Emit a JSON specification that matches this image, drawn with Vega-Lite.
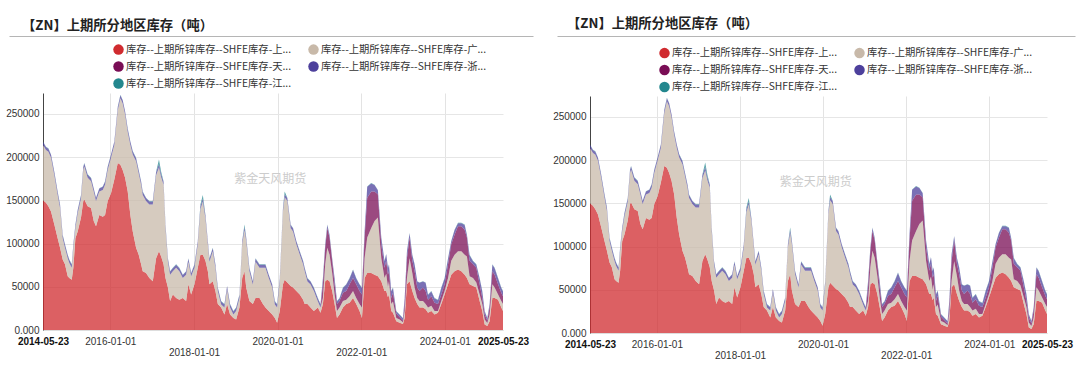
{
  "$schema": "https://vega.github.io/schema/vega-lite/v6.json",
  "background": "white",
  "padding": {"left": 5, "top": 16, "right": 0, "bottom": 0},
  "config": {
    "font": "Liberation Sans, Noto Sans CJK SC",
    "view": {"stroke": null},
    "axis": {"labelFontSize": 10, "labelColor": "#333333", "ticks": false, "title": null}
  },
  "resolve": {"scale": {"color": "independent"}, "legend": {"color": "independent"}},
  "datasets": {
    "names": [
      {"k": "sh", "name": "库存--上期所锌库存--SHFE库存-上海", "o": 1},
      {"k": "gd", "name": "库存--上期所锌库存--SHFE库存-广东", "o": 2},
      {"k": "tj", "name": "库存--上期所锌库存--SHFE库存-天津", "o": 3},
      {"k": "zj", "name": "库存--上期所锌库存--SHFE库存-浙江", "o": 4},
      {"k": "js", "name": "库存--上期所锌库存--SHFE库存-江苏", "o": 5}
    ],
    "inv": [
      {"d":"2014-05-23","sh":150000,"gd":64000,"tj":0,"zj":3500,"js":500},
      {"d":"2014-06-18","sh":147000,"gd":61000,"tj":0,"zj":3500,"js":500},
      {"d":"2014-07-09","sh":143000,"gd":63000,"tj":0,"zj":3500,"js":500},
      {"d":"2014-08-01","sh":137000,"gd":62000,"tj":0,"zj":3500,"js":500},
      {"d":"2014-08-30","sh":122000,"gd":57000,"tj":0,"zj":3500,"js":500},
      {"d":"2014-09-28","sh":106000,"gd":50000,"tj":0,"zj":3500,"js":500},
      {"d":"2014-10-19","sh":95000,"gd":46000,"tj":0,"zj":3500,"js":500},
      {"d":"2014-11-11","sh":81500,"gd":24500,"tj":0,"zj":3500,"js":500},
      {"d":"2014-12-01","sh":76000,"gd":19000,"tj":0,"zj":3500,"js":500},
      {"d":"2014-12-25","sh":62000,"gd":21000,"tj":0,"zj":3500,"js":500},
      {"d":"2015-01-08","sh":60000,"gd":17500,"tj":0,"zj":3500,"js":500},
      {"d":"2015-01-29","sh":58000,"gd":14000,"tj":0,"zj":3500,"js":500},
      {"d":"2015-02-12","sh":72000,"gd":23000,"tj":0,"zj":3500,"js":500},
      {"d":"2015-03-02","sh":106000,"gd":12000,"tj":0,"zj":3500,"js":500},
      {"d":"2015-03-22","sh":114000,"gd":21000,"tj":0,"zj":3500,"js":500},
      {"d":"2015-04-20","sh":130000,"gd":22000,"tj":0,"zj":3500,"js":500},
      {"d":"2015-05-10","sh":149000,"gd":36000,"tj":0,"zj":3500,"js":500},
      {"d":"2015-05-19","sh":151000,"gd":38000,"tj":0,"zj":3500,"js":500},
      {"d":"2015-06-17","sh":143000,"gd":33000,"tj":0,"zj":3500,"js":500},
      {"d":"2015-07-17","sh":141000,"gd":31000,"tj":0,"zj":3500,"js":500},
      {"d":"2015-08-09","sh":126000,"gd":34000,"tj":0,"zj":3500,"js":500},
      {"d":"2015-08-29","sh":120000,"gd":29000,"tj":0,"zj":3500,"js":500},
      {"d":"2015-09-27","sh":133000,"gd":27000,"tj":0,"zj":3500,"js":500},
      {"d":"2015-10-27","sh":131000,"gd":31000,"tj":0,"zj":3500,"js":500},
      {"d":"2015-11-16","sh":133000,"gd":35000,"tj":0,"zj":3500,"js":500},
      {"d":"2015-12-09","sh":149000,"gd":36000,"tj":0,"zj":3500,"js":500},
      {"d":"2016-01-07","sh":158000,"gd":41000,"tj":0,"zj":3500,"js":500},
      {"d":"2016-02-05","sh":174000,"gd":40000,"tj":0,"zj":3500,"js":500},
      {"d":"2016-03-06","sh":193000,"gd":61000,"tj":0,"zj":3500,"js":500},
      {"d":"2016-03-29","sh":191000,"gd":77000,"tj":0,"zj":3500,"js":500},
      {"d":"2016-04-18","sh":185000,"gd":77000,"tj":0,"zj":3500,"js":500},
      {"d":"2016-05-09","sh":176000,"gd":73000,"tj":0,"zj":3500,"js":500},
      {"d":"2016-06-01","sh":160000,"gd":69000,"tj":0,"zj":3500,"js":500},
      {"d":"2016-06-24","sh":133000,"gd":81000,"tj":0,"zj":3500,"js":500},
      {"d":"2016-07-15","sh":114000,"gd":89000,"tj":0,"zj":3500,"js":500},
      {"d":"2016-08-13","sh":95000,"gd":100000,"tj":0,"zj":3500,"js":500},
      {"d":"2016-09-05","sh":87000,"gd":94000,"tj":0,"zj":3500,"js":500},
      {"d":"2016-09-26","sh":76000,"gd":92000,"tj":0,"zj":3500,"js":500},
      {"d":"2016-10-10","sh":68000,"gd":88000,"tj":0,"zj":3500,"js":500},
      {"d":"2016-11-08","sh":66000,"gd":83000,"tj":0,"zj":3500,"js":500},
      {"d":"2016-12-07","sh":60000,"gd":85000,"tj":0,"zj":3500,"js":500},
      {"d":"2017-01-06","sh":56500,"gd":88500,"tj":0,"zj":3500,"js":500},
      {"d":"2017-02-04","sh":83000,"gd":96000,"tj":0,"zj":3500,"js":500},
      {"d":"2017-03-01","sh":91000,"gd":97000,"tj":0,"zj":4000,"js":5000},
      {"d":"2017-03-20","sh":85000,"gd":91500,"tj":0,"zj":3500,"js":3000},
      {"d":"2017-04-10","sh":76000,"gd":92000,"tj":0,"zj":3500,"js":500},
      {"d":"2017-04-27","sh":60000,"gd":58000,"tj":0,"zj":3500,"js":500},
      {"d":"2017-05-18","sh":49000,"gd":30000,"tj":0,"zj":3500,"js":500},
      {"d":"2017-06-06","sh":33500,"gd":30500,"tj":0,"zj":3500,"js":500},
      {"d":"2017-06-30","sh":41000,"gd":27000,"tj":0,"zj":3500,"js":500},
      {"d":"2017-07-29","sh":37000,"gd":35000,"tj":0,"zj":3500,"js":500},
      {"d":"2017-08-26","sh":35000,"gd":33000,"tj":0,"zj":3500,"js":500},
      {"d":"2017-09-25","sh":37000,"gd":23000,"tj":0,"zj":3500,"js":500},
      {"d":"2017-10-24","sh":33500,"gd":30500,"tj":0,"zj":3500,"js":500},
      {"d":"2017-11-13","sh":53000,"gd":26000,"tj":0,"zj":3500,"js":500},
      {"d":"2017-12-07","sh":41000,"gd":21000,"tj":0,"zj":3500,"js":500},
      {"d":"2018-01-05","sh":53000,"gd":19000,"tj":0,"zj":3500,"js":500},
      {"d":"2018-02-03","sh":72000,"gd":27000,"tj":0,"zj":3500,"js":500},
      {"d":"2018-02-26","sh":87000,"gd":52500,"tj":0,"zj":3500,"js":2000},
      {"d":"2018-03-19","sh":87000,"gd":61500,"tj":0,"zj":3500,"js":4000},
      {"d":"2018-04-11","sh":80000,"gd":49000,"tj":0,"zj":3500,"js":500},
      {"d":"2018-05-02","sh":68000,"gd":31000,"tj":0,"zj":3500,"js":500},
      {"d":"2018-05-16","sh":53000,"gd":26000,"tj":0,"zj":3500,"js":500},
      {"d":"2018-06-14","sh":56500,"gd":34500,"tj":0,"zj":3500,"js":500},
      {"d":"2018-07-07","sh":45000,"gd":27000,"tj":0,"zj":3500,"js":500},
      {"d":"2018-07-28","sh":30000,"gd":15000,"tj":0,"zj":3500,"js":500},
      {"d":"2018-08-26","sh":26000,"gd":3500,"tj":0,"zj":3500,"js":500},
      {"d":"2018-09-24","sh":18000,"gd":8000,"tj":0,"zj":3500,"js":500},
      {"d":"2018-10-17","sh":30000,"gd":17000,"tj":0,"zj":3500,"js":500},
      {"d":"2018-11-12","sh":18000,"gd":8000,"tj":0,"zj":3500,"js":500},
      {"d":"2018-12-11","sh":14000,"gd":4000,"tj":0,"zj":3500,"js":500},
      {"d":"2019-01-04","sh":12000,"gd":10000,"tj":0,"zj":3500,"js":500},
      {"d":"2019-02-02","sh":26000,"gd":11000,"tj":0,"zj":3500,"js":500},
      {"d":"2019-02-26","sh":60000,"gd":39000,"tj":0,"zj":3500,"js":500},
      {"d":"2019-03-18","sh":68000,"gd":47500,"tj":0,"zj":3500,"js":3000},
      {"d":"2019-04-02","sh":49000,"gd":54000,"tj":0,"zj":3500,"js":500},
      {"d":"2019-04-30","sh":33500,"gd":34500,"tj":0,"zj":3500,"js":500},
      {"d":"2019-05-30","sh":30000,"gd":22500,"tj":0,"zj":3500,"js":500},
      {"d":"2019-06-22","sh":37000,"gd":42000,"tj":0,"zj":3500,"js":500},
      {"d":"2019-07-27","sh":37000,"gd":35000,"tj":0,"zj":3500,"js":500},
      {"d":"2019-08-26","sh":30000,"gd":42000,"tj":0,"zj":3500,"js":500},
      {"d":"2019-09-17","sh":26000,"gd":46000,"tj":0,"zj":3500,"js":500},
      {"d":"2019-10-16","sh":22000,"gd":38000,"tj":0,"zj":3500,"js":500},
      {"d":"2019-11-15","sh":18000,"gd":31000,"tj":0,"zj":3500,"js":500},
      {"d":"2019-12-08","sh":14000,"gd":15500,"tj":0,"zj":3500,"js":500},
      {"d":"2019-12-28","sh":8500,"gd":17500,"tj":0,"zj":3500,"js":500},
      {"d":"2020-01-20","sh":22000,"gd":34000,"tj":0,"zj":3500,"js":500},
      {"d":"2020-02-17","sh":53000,"gd":84000,"tj":0,"zj":3500,"js":500},
      {"d":"2020-03-03","sh":58000,"gd":95500,"tj":0,"zj":3500,"js":3000},
      {"d":"2020-03-26","sh":55000,"gd":94000,"tj":0,"zj":3500,"js":500},
      {"d":"2020-04-24","sh":51000,"gd":67000,"tj":0,"zj":3500,"js":500},
      {"d":"2020-05-15","sh":49000,"gd":65000,"tj":0,"zj":3500,"js":500},
      {"d":"2020-06-13","sh":45000,"gd":54000,"tj":0,"zj":3500,"js":500},
      {"d":"2020-07-13","sh":41000,"gd":46000,"tj":0,"zj":3500,"js":500},
      {"d":"2020-08-11","sh":35000,"gd":41000,"tj":0,"zj":3500,"js":500},
      {"d":"2020-08-25","sh":30000,"gd":38000,"tj":0,"zj":3500,"js":500},
      {"d":"2020-09-18","sh":30000,"gd":26000,"tj":0,"zj":3500,"js":500},
      {"d":"2020-10-15","sh":26000,"gd":26500,"tj":0,"zj":3500,"js":500},
      {"d":"2020-11-13","sh":22000,"gd":23000,"tj":0,"zj":3500,"js":500},
      {"d":"2020-12-18","sh":26000,"gd":7000,"tj":0,"zj":3500,"js":500},
      {"d":"2021-01-10","sh":20000,"gd":6000,"tj":0,"zj":3500,"js":500},
      {"d":"2021-01-31","sh":30000,"gd":7000,"tj":16000,"zj":6000,"js":1000},
      {"d":"2021-02-20","sh":56500,"gd":19500,"tj":19000,"zj":3500,"js":500},
      {"d":"2021-03-10","sh":58000,"gd":37000,"tj":23000,"zj":3500,"js":500},
      {"d":"2021-03-30","sh":56500,"gd":30500,"tj":20000,"zj":2500,"js":500},
      {"d":"2021-04-22","sh":45000,"gd":21000,"tj":14000,"zj":2500,"js":500},
      {"d":"2021-05-13","sh":30000,"gd":11000,"tj":12000,"zj":6500,"js":500},
      {"d":"2021-06-03","sh":14000,"gd":8000,"tj":8000,"zj":3000,"js":500},
      {"d":"2021-06-25","sh":18000,"gd":8000,"tj":7500,"zj":3000,"js":500},
      {"d":"2021-07-25","sh":26000,"gd":7500,"tj":9500,"zj":5500,"js":500},
      {"d":"2021-08-23","sh":30000,"gd":5000,"tj":10000,"zj":7500,"js":500},
      {"d":"2021-09-21","sh":31500,"gd":7500,"tj":14000,"zj":6500,"js":500},
      {"d":"2021-10-21","sh":37000,"gd":8000,"tj":15000,"zj":9500,"js":500},
      {"d":"2021-11-18","sh":30000,"gd":7000,"tj":16000,"zj":6500,"js":500},
      {"d":"2021-12-17","sh":22000,"gd":8000,"tj":15000,"zj":7500,"js":500},
      {"d":"2022-01-07","sh":14000,"gd":12000,"tj":15000,"zj":7500,"js":500},
      {"d":"2022-01-30","sh":60000,"gd":23000,"tj":24000,"zj":6500,"js":500},
      {"d":"2022-02-22","sh":66000,"gd":41000,"tj":46000,"zj":12500,"js":500},
      {"d":"2022-03-29","sh":66000,"gd":52000,"tj":42000,"zj":9500,"js":500},
      {"d":"2022-04-27","sh":64000,"gd":62000,"tj":34000,"zj":7500,"js":500},
      {"d":"2022-05-26","sh":62000,"gd":68000,"tj":27000,"zj":4500,"js":500},
      {"d":"2022-06-25","sh":56500,"gd":26500,"tj":16000,"zj":7500,"js":500},
      {"d":"2022-07-23","sh":45000,"gd":15000,"tj":12000,"zj":7500,"js":500},
      {"d":"2022-08-07","sh":45000,"gd":20000,"tj":15000,"zj":7500,"js":500},
      {"d":"2022-08-22","sh":38000,"gd":12000,"tj":14000,"zj":7500,"js":500},
      {"d":"2022-08-31","sh":41000,"gd":15500,"tj":11500,"zj":7500,"js":500},
      {"d":"2022-09-20","sh":22000,"gd":8000,"tj":7000,"zj":7500,"js":500},
      {"d":"2022-10-05","sh":20000,"gd":13000,"tj":10000,"zj":5500,"js":500},
      {"d":"2022-11-03","sh":10000,"gd":4000,"tj":5000,"zj":2500,"js":500},
      {"d":"2022-12-02","sh":8500,"gd":3500,"tj":3000,"zj":2500,"js":500},
      {"d":"2022-12-31","sh":7000,"gd":2000,"tj":2000,"zj":2500,"js":500},
      {"d":"2023-01-15","sh":14000,"gd":8000,"tj":8000,"zj":6500,"js":500},
      {"d":"2023-02-04","sh":53000,"gd":7000,"tj":23000,"zj":7500,"js":500},
      {"d":"2023-02-27","sh":56500,"gd":26500,"tj":24000,"zj":4500,"js":500},
      {"d":"2023-03-23","sh":45000,"gd":21000,"tj":14000,"zj":6500,"js":500},
      {"d":"2023-04-12","sh":37000,"gd":12000,"tj":19000,"zj":7500,"js":500},
      {"d":"2023-05-05","sh":30000,"gd":7000,"tj":12000,"zj":7000,"js":500},
      {"d":"2023-05-25","sh":26000,"gd":7500,"tj":11500,"zj":9500,"js":500},
      {"d":"2023-06-24","sh":26000,"gd":7500,"tj":15500,"zj":7000,"js":500},
      {"d":"2023-07-17","sh":24000,"gd":6000,"tj":15000,"zj":9500,"js":500},
      {"d":"2023-08-07","sh":20000,"gd":6000,"tj":9000,"zj":5500,"js":500},
      {"d":"2023-09-05","sh":22000,"gd":6000,"tj":11000,"zj":5500,"js":500},
      {"d":"2023-10-03","sh":18000,"gd":4000,"tj":9500,"zj":5000,"js":500},
      {"d":"2023-11-02","sh":20000,"gd":2000,"tj":8000,"zj":4500,"js":500},
      {"d":"2023-12-01","sh":30000,"gd":3500,"tj":7500,"zj":7500,"js":500},
      {"d":"2023-12-30","sh":41000,"gd":4000,"tj":8000,"zj":6500,"js":500},
      {"d":"2024-01-29","sh":53000,"gd":7000,"tj":16000,"zj":6500,"js":500},
      {"d":"2024-02-26","sh":64000,"gd":16000,"tj":19000,"zj":3500,"js":500},
      {"d":"2024-03-26","sh":68000,"gd":19000,"tj":23000,"zj":5500,"js":500},
      {"d":"2024-04-25","sh":70000,"gd":21000,"tj":29000,"zj":3500,"js":500},
      {"d":"2024-05-24","sh":68000,"gd":23000,"tj":29000,"zj":3500,"js":500},
      {"d":"2024-06-22","sh":64000,"gd":23000,"tj":29000,"zj":5500,"js":500},
      {"d":"2024-07-12","sh":60000,"gd":25000,"tj":22000,"zj":2500,"js":500},
      {"d":"2024-08-04","sh":53000,"gd":9000,"tj":18000,"zj":6500,"js":500},
      {"d":"2024-09-03","sh":51000,"gd":9000,"tj":16000,"zj":3500,"js":500},
      {"d":"2024-10-02","sh":49000,"gd":6000,"tj":17000,"zj":3500,"js":500},
      {"d":"2024-10-31","sh":33500,"gd":7500,"tj":12000,"zj":6500,"js":500},
      {"d":"2024-11-23","sh":22000,"gd":8000,"tj":7000,"zj":7500,"js":500},
      {"d":"2024-12-14","sh":6500,"gd":5500,"tj":6000,"zj":3500,"js":500},
      {"d":"2025-01-06","sh":4500,"gd":3500,"tj":3000,"zj":2500,"js":500},
      {"d":"2025-01-26","sh":10000,"gd":8000,"tj":8000,"zj":3500,"js":500},
      {"d":"2025-02-19","sh":37000,"gd":16000,"tj":15000,"zj":7500,"js":500},
      {"d":"2025-03-11","sh":37000,"gd":12000,"tj":15000,"zj":7500,"js":500},
      {"d":"2025-04-10","sh":35000,"gd":6000,"tj":12000,"zj":6500,"js":500},
      {"d":"2025-05-08","sh":26000,"gd":7500,"tj":9500,"zj":5500,"js":500},
      {"d":"2025-05-23","sh":22000,"gd":8000,"tj":9000,"zj":5500,"js":500}
    ]
  },
  "spacing": -15,
  "hconcat": [
    {
      "spacing": 57,
      "vconcat": [
        {
          "width": 490,
          "height": 1,
          "data": {"values": []},
          "mark": "text",
          "encoding": {
            "x": {"field": "a", "type": "quantitative", "scale": {"domain": [0, 1], "range": [-34, 490]},
              "axis": {"labels": false, "ticks": false, "grid": false, "domain": true, "domainColor": "#b5b5b5", "title": null}}
          },
          "title": {"text": "【ZN】上期所分地区库存（吨）", "anchor": "start", "dx": -21, "offset": 3, "fontSize": 13.3, "fontWeight": "bold", "font": "Noto Sans CJK SC", "color": "#222222"}
        },
        {
          "width": 460,
          "height": 237,
          "layer": [
            {
              "data": {"name": "inv"},
              "transform": [
                {"fold": ["sh", "gd", "tj", "zj", "js"], "as": ["k", "v"]},
                {"lookup": "k", "from": {"data": {"name": "names"}, "key": "k", "fields": ["name", "o"]}}
              ],
              "mark": {"type": "area", "opacity": 0.75, "interpolate": "linear"},
              "encoding": {
                "x": {"field": "d", "type": "temporal",
                  "scale": {"type": "utc", "nice": false, "domain": [{"year": 2014, "month": 5, "date": 23, "utc": true}, {"year": 2025, "month": 5, "date": 23, "utc": true}]},
                  "axis": {
                    "values": [{"year": 2014, "month": 5, "date": 23, "utc": true}, {"year": 2016, "month": 1, "date": 1, "utc": true}, {"year": 2018, "month": 1, "date": 1, "utc": true}, {"year": 2020, "month": 1, "date": 1, "utc": true}, {"year": 2022, "month": 1, "date": 1, "utc": true}, {"year": 2024, "month": 1, "date": 1, "utc": true}, {"year": 2025, "month": 5, "date": 23, "utc": true}],
                    "labelExpr": "(utcyear(datum.value) == 2018 || utcyear(datum.value) == 2022) ? ['', utcFormat(datum.value, '%Y-%m-%d')] : utcFormat(datum.value, '%Y-%m-%d')",
                    "labelFontWeight": {"condition": {"test": "datum.value < utc(2015,0,1) || datum.value > utc(2025,0,1)", "value": "bold"}, "value": "normal"},
                    "labelColor": {"condition": {"test": "datum.value < utc(2015,0,1) || datum.value > utc(2025,0,1)", "value": "#111111"}, "value": "#333333"},
                    "labelFlush": false, "labelOverlap": false, "labelBaseline": "top", "labelLineHeight": 11, "labelPadding": 6,
                    "grid": true, "gridColor": "#e3e3e3",
                    "gridOpacity": {"condition": {"test": "datum.value < utc(2015,0,1) || datum.value > utc(2025,0,1)", "value": 0}, "value": 1},
                    "domainColor": "#dddddd"
                  }
                },
                "y": {"field": "v", "type": "quantitative", "stack": "zero",
                  "scale": {"domain": [0, 274000], "nice": false},
                  "axis": {"values": [0, 50000, 100000, 150000, 200000, 250000], "labelExpr": "datum.value == 0 ? '0.000' : format(datum.value, 'd')", "labelPadding": 4, "grid": true, "gridColor": "#e6e6e6", "domainColor": "#444444"}
                },
                "color": {"field": "name", "type": "nominal",
                  "scale": {"domain": ["库存--上期所锌库存--SHFE库存-上海", "库存--上期所锌库存--SHFE库存-天津", "库存--上期所锌库存--SHFE库存-江苏", "库存--上期所锌库存--SHFE库存-广东", "库存--上期所锌库存--SHFE库存-浙江"], "range": ["#d02b2f", "#790d55", "#23878e", "#c8b9a9", "#4d409c"]},
                  "legend": {"orient": "none", "legendX": 70, "legendY": 9, "columns": 2, "title": null, "symbolType": "circle", "symbolSize": 110, "symbolOpacity": 1, "symbolStrokeWidth": 0, "labelFontSize": 10.3, "labelColor": "#333333", "labelFont": "Noto Sans CJK SC", "labelExpr": "slice(datum.label, 0, 20) + '...'", "labelLimit": 300, "labelOffset": 2, "columnPadding": 17, "rowPadding": 6}
                },
                "order": {"field": "o", "type": "quantitative"}
              }
            },
            {
              "data": {"values": [{}]},
              "mark": {"type": "text", "text": "紫金天风期货", "color": "#cccccc", "fontSize": 12, "font": "Noto Sans CJK SC"},
              "encoding": {
                "x": {"datum": {"year": 2019, "month": 10, "date": 28, "utc": true}, "type": "temporal"},
                "y": {"datum": 174000, "type": "quantitative"}
              }
            }
          ]
        }
      ]
    },
    {
      "spacing": 60,
      "vconcat": [
        {
          "width": 485,
          "height": 1,
          "data": {"values": []},
          "mark": "text",
          "encoding": {
            "x": {"field": "a", "type": "quantitative", "scale": {"domain": [0, 1], "range": [-33, 485]},
              "axis": {"labels": false, "ticks": false, "grid": false, "domain": true, "domainColor": "#b5b5b5", "title": null}}
          },
          "title": {"text": "【ZN】上期所分地区库存（吨）", "anchor": "start", "dx": -23, "offset": 5, "fontSize": 13.3, "fontWeight": "bold", "font": "Noto Sans CJK SC", "color": "#222222"}
        },
        {
          "width": 457,
          "height": 237,
          "layer": [
            {
              "data": {"name": "inv"},
              "transform": [
                {"fold": ["sh", "gd", "tj", "zj", "js"], "as": ["k", "v"]},
                {"lookup": "k", "from": {"data": {"name": "names"}, "key": "k", "fields": ["name", "o"]}}
              ],
              "mark": {"type": "area", "opacity": 0.75, "interpolate": "linear"},
              "encoding": {
                "x": {"field": "d", "type": "temporal",
                  "scale": {"type": "utc", "nice": false, "domain": [{"year": 2014, "month": 5, "date": 23, "utc": true}, {"year": 2025, "month": 5, "date": 23, "utc": true}]},
                  "axis": {
                    "values": [{"year": 2014, "month": 5, "date": 23, "utc": true}, {"year": 2016, "month": 1, "date": 1, "utc": true}, {"year": 2018, "month": 1, "date": 1, "utc": true}, {"year": 2020, "month": 1, "date": 1, "utc": true}, {"year": 2022, "month": 1, "date": 1, "utc": true}, {"year": 2024, "month": 1, "date": 1, "utc": true}, {"year": 2025, "month": 5, "date": 23, "utc": true}],
                    "labelExpr": "(utcyear(datum.value) == 2018 || utcyear(datum.value) == 2022) ? ['', utcFormat(datum.value, '%Y-%m-%d')] : utcFormat(datum.value, '%Y-%m-%d')",
                    "labelFontWeight": {"condition": {"test": "datum.value < utc(2015,0,1) || datum.value > utc(2025,0,1)", "value": "bold"}, "value": "normal"},
                    "labelColor": {"condition": {"test": "datum.value < utc(2015,0,1) || datum.value > utc(2025,0,1)", "value": "#111111"}, "value": "#333333"},
                    "labelFlush": false, "labelOverlap": false, "labelBaseline": "top", "labelLineHeight": 11, "labelPadding": 6,
                    "grid": true, "gridColor": "#e3e3e3",
                    "gridOpacity": {"condition": {"test": "datum.value < utc(2015,0,1) || datum.value > utc(2025,0,1)", "value": 0}, "value": 1},
                    "domainColor": "#dddddd"
                  }
                },
                "y": {"field": "v", "type": "quantitative", "stack": "zero",
                  "scale": {"domain": [0, 274000], "nice": false},
                  "axis": {"values": [0, 50000, 100000, 150000, 200000, 250000], "labelExpr": "datum.value == 0 ? '0.000' : format(datum.value, 'd')", "labelPadding": 4, "grid": true, "gridColor": "#e6e6e6", "domainColor": "#444444"}
                },
                "color": {"field": "name", "type": "nominal",
                  "scale": {"domain": ["库存--上期所锌库存--SHFE库存-上海", "库存--上期所锌库存--SHFE库存-天津", "库存--上期所锌库存--SHFE库存-江苏", "库存--上期所锌库存--SHFE库存-广东", "库存--上期所锌库存--SHFE库存-浙江"], "range": ["#d02b2f", "#790d55", "#23878e", "#c8b9a9", "#4d409c"]},
                  "legend": {"orient": "none", "legendX": 69, "legendY": 12.5, "columns": 2, "title": null, "symbolType": "circle", "symbolSize": 110, "symbolOpacity": 1, "symbolStrokeWidth": 0, "labelFontSize": 10.3, "labelColor": "#333333", "labelFont": "Noto Sans CJK SC", "labelExpr": "slice(datum.label, 0, 20) + '...'", "labelLimit": 300, "labelOffset": 2, "columnPadding": 17, "rowPadding": 6}
                },
                "order": {"field": "o", "type": "quantitative"}
              }
            },
            {
              "data": {"values": [{}]},
              "mark": {"type": "text", "text": "紫金天风期货", "color": "#cccccc", "fontSize": 12, "font": "Noto Sans CJK SC"},
              "encoding": {
                "x": {"datum": {"year": 2019, "month": 10, "date": 28, "utc": true}, "type": "temporal"},
                "y": {"datum": 174000, "type": "quantitative"}
              }
            }
          ]
        }
      ]
    }
  ]
}
